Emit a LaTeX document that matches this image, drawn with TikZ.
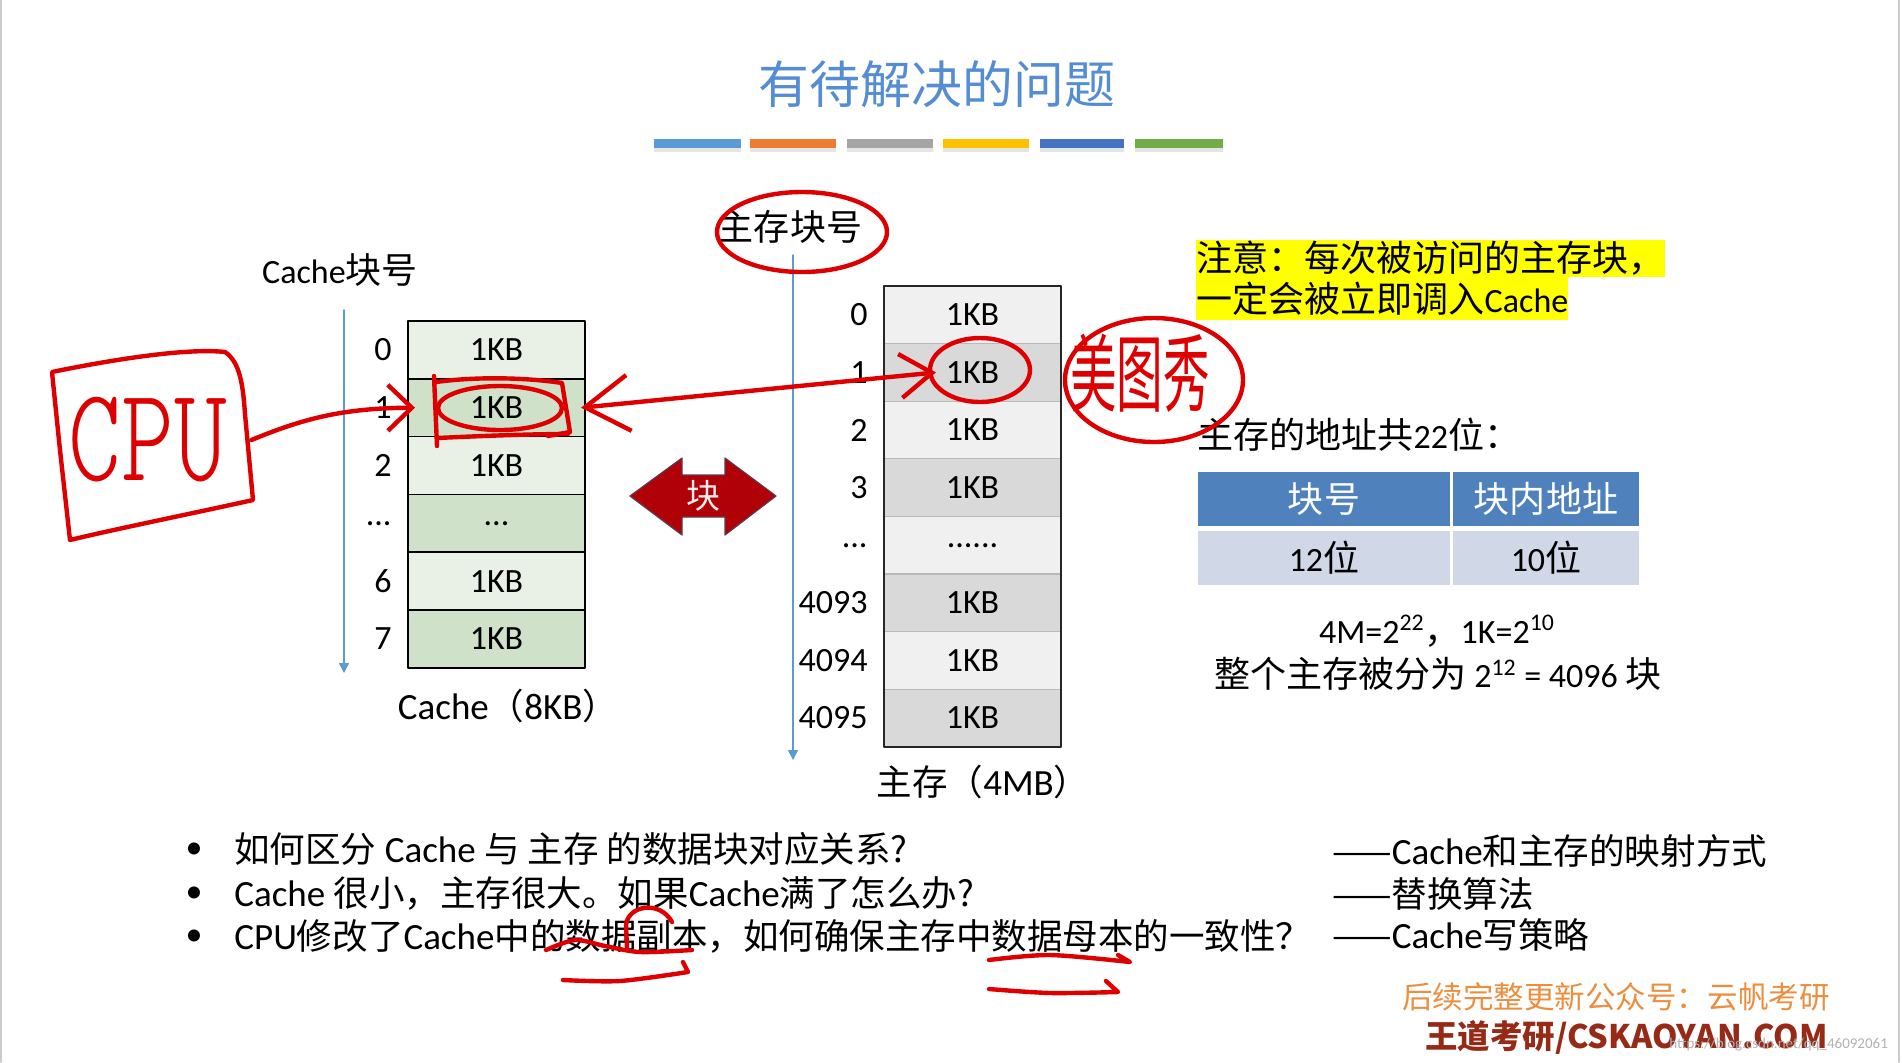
\documentclass[tikz,border=0pt]{standalone}
\usepackage{fontspec}
\usepackage{graphicx}
\setmainfont{Carlito}
\newfontfamily\zh[Scale=1.06]{Noto Sans CJK SC}
\newfontfamily\zhs[Scale=0.96]{Noto Sans CJK SC}
\newfontfamily\hand{lmmonolt10-regular.otf}
\usetikzlibrary{positioning,arrows.meta}
\definecolor{titleblue}{RGB}{84,141,212}
\definecolor{axisblue}{RGB}{91,155,213}
\definecolor{cLight}{RGB}{233,240,230}
\definecolor{cDark}{RGB}{208,225,202}
\definecolor{mLight}{RGB}{240,240,240}
\definecolor{mDark}{RGB}{217,217,217}
\definecolor{penred}{RGB}{222,0,0}
\definecolor{blkred}{RGB}{176,0,8}
\definecolor{blkedge}{RGB}{96,56,80}
\definecolor{hdblue}{RGB}{79,129,189}
\definecolor{bdblue}{RGB}{208,216,232}
\definecolor{hlyellow}{RGB}{255,255,0}
\definecolor{wmorange}{RGB}{236,142,62}
\definecolor{wmred}{RGB}{150,42,22}
\definecolor{barA}{RGB}{91,155,213}
\definecolor{barB}{RGB}{237,125,49}
\definecolor{barC}{RGB}{165,165,165}
\definecolor{barD}{RGB}{255,192,0}
\definecolor{barE}{RGB}{68,114,196}
\definecolor{barF}{RGB}{112,173,71}
\tikzset{
    lab/.style={
        font=\fontsize{17pt}{20pt}\selectfont
    },
    big/.style={
        font=\fontsize{18.5pt}{21pt}\selectfont
    }
}

\begin{document}
\begin{tikzpicture}[x=0.5pt,y=-0.5pt, line cap=round, line join=round]

\tikzset{
  ccell/.style={lab, draw=black, line width=0.75pt, minimum width=88.5pt, minimum height=28.9pt, inner sep=0pt, outer sep=0pt},
  mcell/.style={lab, draw=gray!55, line width=0.6pt, minimum width=88.5pt, minimum height=28.8pt, inner sep=0pt, outer sep=0pt},
  num/.style={lab, inner sep=0pt},
  axis/.style={draw=axisblue, line width=0.75pt, -{Triangle[length=5pt,width=5pt]}},
  pen/.style={draw=penred, line width=2.2pt},
  hd/.style={lab, fill=hdblue, text=white, minimum height=27pt, inner sep=0pt},
  bd/.style={lab, fill=bdblue, minimum height=27pt, inner sep=0pt},
  hlite/.style={lab, fill=hlyellow, inner sep=0pt, anchor=west},
  line/.style={big, inner sep=0pt, anchor=west, text height=14pt, text depth=3pt},
}

\useasboundingbox (0,0) rectangle (1902,1062);
\fill[white] (0,0) rectangle (1902,1062);
\draw[black!20, line width=0.8pt] (1,0) -- (1,1062);
\draw[black!20, line width=0.8pt] (1899,0) -- (1899,1062);

% title and colour bars
\node[font=\fontsize{24pt}{28pt}\selectfont, text=titleblue] (title) at (937,84) {\zh 有待解决的问题};
\fill[black!10] (654,148) rectangle (741,152);
\fill[black!10] (750,148) rectangle (836,152);
\fill[black!10] (847,148) rectangle (933,152);
\fill[black!10] (943,148) rectangle (1029,152);
\fill[black!10] (1040,148) rectangle (1124,152);
\fill[black!10] (1135,148) rectangle (1223,152);
\fill[barA] (654,139) rectangle (741,148);
\fill[barB] (750,139) rectangle (836,148);
\fill[barC] (847,139) rectangle (933,148);
\fill[barD] (943,139) rectangle (1029,148);
\fill[barE] (1040,139) rectangle (1124,148);
\fill[barF] (1135,139) rectangle (1223,148);

% cache
\node[lab] (clab) at (340,270) {Cache{\zh 块号}};
\coordinate (cax0) at (344,310);
\coordinate (cax1) at (344,673);
\draw[axis] (cax0) -- (cax1);

\node[ccell, fill=cLight] (c0) at (496.5,349.9) {1KB};
\node[ccell, fill=cDark, below=0pt of c0] (c1) {1KB};
\node[ccell, fill=cLight, below=0pt of c1] (c2) {1KB};
\node[ccell, fill=cDark, below=0pt of c2] (c3) {...};
\node[ccell, fill=cLight, below=0pt of c3] (c4) {1KB};
\node[ccell, fill=cDark, below=0pt of c4] (c5) {1KB};

\node[num, left=8pt of c0] (n0) {0};
\node[num, left=8pt of c1] (n1) {1};
\node[num, left=8pt of c2] (n2) {2};
\node[num, left=8pt of c3] (n3) {...};
\node[num, left=8pt of c4] (n4) {6};
\node[num, left=8pt of c5] (n5) {7};

\node[big] (csize) at (508,706) {Cache{\zhs （}8KB{\zhs ）}};

% block arrow
\filldraw[fill=blkred, draw=blkedge, line width=0.6pt] (630,496) -- (682,458) -- (682,475) -- (725,475) -- (725,458) -- (776,496) -- (725,535) -- (725,517) -- (682,517) -- (682,535) -- cycle;
\node[font=\fontsize{16pt}{18pt}\selectfont, text=white!92!red] (blk) at (703,496) {\zh 块};

% main memory
\node[lab] (mlab) at (790,227) {\zh 主存块号};
\coordinate (max0) at (793,255);
\coordinate (max1) at (793,760);
\draw[axis] (max0) -- (max1);

\node[mcell, fill=mLight] (m0) at (972.5,314.8) {1KB};
\node[mcell, fill=mDark, below=0pt of m0] (m1) {1KB};
\node[mcell, fill=mLight, below=0pt of m1] (m2) {1KB};
\node[mcell, fill=mDark, below=0pt of m2] (m3) {1KB};
\node[mcell, fill=mLight, below=0pt of m3] (m4) {......};
\node[mcell, fill=mDark, below=0pt of m4] (m5) {1KB};
\node[mcell, fill=mLight, below=0pt of m5] (m6) {1KB};
\node[mcell, fill=mDark, below=0pt of m6] (m7) {1KB};
\draw[black!85, line width=1pt] (m0.north west) rectangle (m7.south east);

\node[num, left=8pt of m0] (r0) {0};
\node[num, left=8pt of m1] (r1) {1};
\node[num, left=8pt of m2] (r2) {2};
\node[num, left=8pt of m3] (r3) {3};
\node[num, left=8pt of m4] (r4) {...};
\node[num, left=8pt of m5] (r5) {4093};
\node[num, left=8pt of m6] (r6) {4094};
\node[num, left=8pt of m7] (r7) {4095};

\node[big] (msize) at (983,782) {{\zhs 主存（}4MB{\zhs ）}};

% right panel
\node[hlite, minimum height=18.5pt] (h1) at (1196,258.5) {\zh 注意：每次被访问的主存块，};
\node[hlite, minimum height=21.5pt] (h2) at (1196,298.5) {{\zh 一定会被立即调入}Cache};
\node[lab, inner sep=0pt, anchor=west] (addr) at (1197,435) {{\zh 主存的地址共}22{\zh 位：}};

\node[hd, minimum width=126pt] (t11) at (1324,499) {\zh 块号};
\node[hd, minimum width=93pt] (t12) at (1546,499) {\zh 块内地址};
\node[bd, minimum width=126pt] (t21) at (1324,558) {12{\zh 位}};
\node[bd, minimum width=93pt] (t22) at (1546,558) {10{\zh 位}};

\node[lab] (f1) at (1437,631) {4M=2\textsuperscript{22}{\zh ，}1K=2\textsuperscript{10}};
\node[lab] (f2) at (1438,674) {{\zh 整个主存被分为} 2\textsuperscript{12} = 4096 {\zh 块}};

% questions
\node[lab] (b1) at (194,851) {•};
\node[lab] (b2) at (194,895) {•};
\node[lab] (b3) at (194,938) {•};
\node[line] (q1) at (234,851) {{\zhs 如何区分} Cache {\zhs 与 主存 的数据块对应关系?}};
\node[line] (q2) at (234,895) {Cache {\zhs 很小，主存很大。如果}Cache{\zhs 满了怎么办?}};
\node[line] (q3) at (234,938) {CPU{\zhs 修改了}Cache{\zhs 中的数据副本，如何确保主存中数据母本的一致性？}};
\node[line] (a1) at (1332,853) {{\zhs ——}Cache{\zhs 和主存的映射方式}};
\node[line] (a2) at (1332,896) {\zhs ——替换算法};
\node[line] (a3) at (1332,937) {{\zhs ——}Cache{\zhs 写策略}};

% footer
\node[font=\fontsize{14.4pt}{17pt}\selectfont, text=wmorange, inner sep=0pt, anchor=east] (w1) at (1830,997) {\zh 后续完整更新公众号：云帆考研};
\node[font=\fontsize{15.3pt}{18pt}\selectfont\bfseries, text=wmred, inner sep=0pt, anchor=east] (w2) at (1828,1037) {\zh 王道考研/CSKAOYAN.COM};
\node[font=\fontsize{7.5pt}{9pt}\selectfont, text=black!30, anchor=east] (url) at (1895,1045) {https://blog.csdn.net/qq\_46092061};

% handwriting
\node[text=penred, font=\fontsize{67pt}{67pt}\selectfont\hand, minimum width=103pt, minimum height=80pt] (cpu) at (148,440) {\scalebox{0.75}[1]{CPU}};
\draw[pen] (52,372) .. controls (120,358) and (190,348) .. (225,352) .. controls (240,362) and (243,385) .. (245,414) -- (253,500) .. controls (190,514) and (120,528) .. (70,540) -- (60,450) -- cycle;
\draw[pen, -{Straight Barb[length=12pt,width=23pt]}] (cpu.east) .. controls (300,420) and (340,408) .. ([xshift=3.5pt]c1.west);

\draw[pen] (434,376) -- (437,446);
\draw[pen] (436,382) .. controls (480,376) and (530,378) .. (562,383) -- (570,432) -- (548,436);
\draw[pen] (437,438) .. controls (480,436) and (530,434) .. (568,434);
\draw[pen] (500,408) ellipse [x radius=31pt, y radius=11pt];

\draw[pen, {Straight Barb[length=22pt,width=28pt]}-{Straight Barb[length=16pt,width=22pt]}] ([xshift=-2pt]c1.east) -- ([xshift=26pt]m1.west);

\draw[pen] (980,370) ellipse [x radius=25pt, y radius=16pt];
\draw[pen] (802,232) ellipse [x radius=42.5pt, y radius=20pt];

\node[text=penred, font=\fontsize{40pt}{40pt}\selectfont] (mtx) at (1140,373) {\scalebox{0.55}[1]{\zh 美图秀}};
\draw[pen] (1154,380) ellipse [x radius=44.5pt, y radius=31pt];

\draw[pen] plot[smooth] coordinates {(546,950) (575,940) (605,946) (640,952) (692,950)};
\draw[pen] (672,922) .. controls (660,900) and (628,905) .. (626,925) -- (627,948);
\draw[pen] plot[smooth] coordinates {(563,980) (620,981) (688,972)} -- (683,962);
\draw[pen] plot[smooth] coordinates {(989,960) (1050,955) (1130,962)} -- (1118,955);
\draw[pen] plot[smooth] coordinates {(989,989) (1050,993) (1118,992)} -- (1106,981);

\end{tikzpicture}
\end{document}
